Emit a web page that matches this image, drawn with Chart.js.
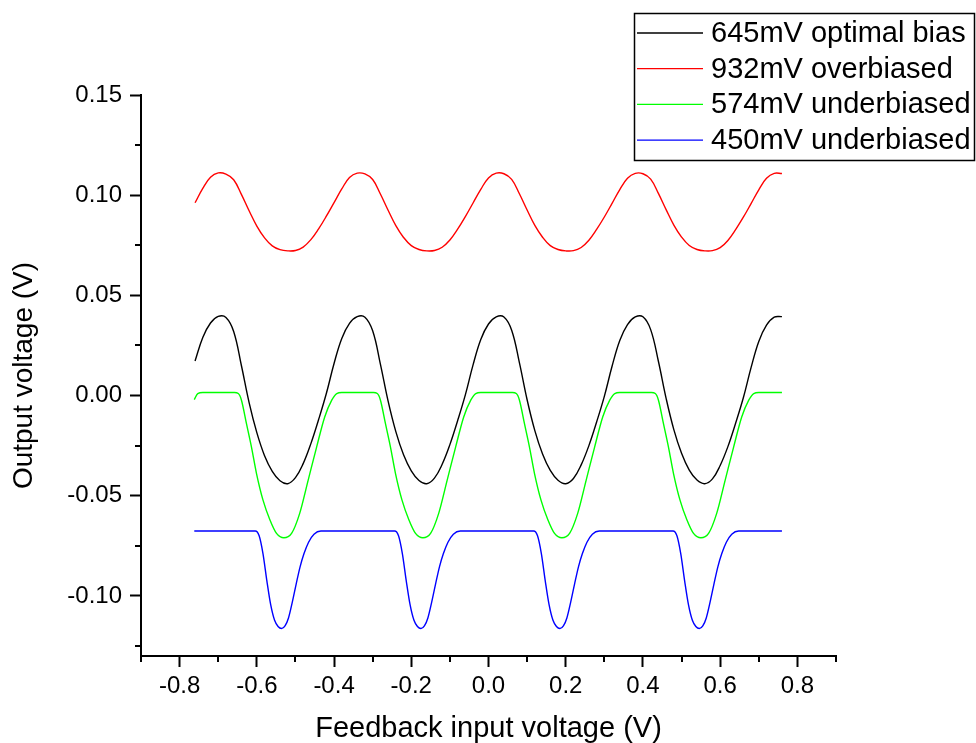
<!DOCTYPE html>
<html>
<head>
<meta charset="utf-8">
<script src="https://cdn.jsdelivr.net/npm/chart.js@4.4.0/dist/chart.umd.min.js"></script>
<style>
  html, body { margin: 0; padding: 0; background: #fff; }
</style>
</head>
<body>
<canvas id="myChart" width="976" height="743"></canvas>
<script>
// feedback input voltage (V) - sampled evenly for the two smooth curves
const xsSmooth = [-0.76,-0.74,-0.72,-0.70,-0.68,-0.66,-0.64,-0.62,-0.60,-0.58,
  -0.56,-0.54,-0.52,-0.50,-0.48,-0.46,-0.44,-0.42,-0.40,-0.38,
  -0.36,-0.34,-0.32,-0.30,-0.28,-0.26,-0.24,-0.22,-0.20,-0.18,
  -0.16,-0.14,-0.12,-0.10,-0.08,-0.06,-0.04,-0.02,0.00,0.02,
  0.04,0.06,0.08,0.10,0.12,0.14,0.16,0.18,0.20,0.22,
  0.24,0.26,0.28,0.30,0.32,0.34,0.36,0.38,0.40,0.42,
  0.44,0.46,0.48,0.50,0.52,0.54,0.56,0.58,0.60,0.62,
  0.64,0.66,0.68,0.70,0.72,0.74,0.76];

// output voltage (V)
const optimal645 = [0.0172,0.0290,0.0362,0.0395,
  0.0390,0.0320,0.0150,-0.0035,-0.0185,-0.0300,-0.0378,-0.0425,-0.0440,-0.0410,-0.0340,-0.0240,-0.0120,0.0010,0.0160,0.0285,0.0360,0.0394,
  0.0391,0.0323,0.0157,-0.0028,-0.0180,-0.0296,-0.0376,-0.0424,-0.0440,-0.0412,-0.0343,-0.0245,-0.0126,0.0003,0.0153,0.0280,0.0357,0.0393,
  0.0392,0.0326,0.0164,-0.0021,-0.0175,-0.0292,-0.0374,-0.0423,-0.0440,-0.0414,-0.0346,-0.0250,-0.0132,-0.0004,0.0146,0.0275,0.0354,0.0392,
  0.0393,0.0329,0.0171,-0.0014,-0.0170,-0.0288,-0.0372,-0.0422,-0.0440,-0.0416,-0.0349,-0.0255,-0.0138,-0.0011,0.0139,0.0270,0.0351,0.0391,
  0.0394];

const over932 = [0.0962,0.1034,0.1089,0.1111,
  0.1105,0.1077,0.1004,0.0922,0.0846,0.0787,0.0747,0.0728,0.0722,0.0724,0.0741,0.0778,0.0832,0.0895,0.0963,0.1031,0.1088,0.1110,
  0.1106,0.1078,0.1006,0.0925,0.0848,0.0789,0.0748,0.0729,0.0722,0.0724,0.0740,0.0776,0.0830,0.0893,0.0961,0.1029,0.1086,0.1110,
  0.1107,0.1079,0.1007,0.0926,0.0849,0.0790,0.0748,0.0729,0.0722,0.0723,0.0739,0.0775,0.0829,0.0891,0.0959,0.1028,0.1085,0.1109,
  0.1107,0.1080,0.1009,0.0928,0.0851,0.0791,0.0749,0.0729,0.0722,0.0723,0.0738,0.0774,0.0828,0.0890,0.0958,0.1027,0.1084,0.1109,
  0.1108];

// 574 mV: flat tops with deep dips, sampled denser in the dips
const xsGreen = [-0.762,-0.753,-0.740,
  -0.658,-0.648,-0.640,-0.627,-0.614,-0.601,-0.584,-0.566,-0.549,-0.530,-0.510,-0.489,-0.467,-0.445,-0.424,-0.406,-0.393,-0.380,
  -0.298,-0.288,-0.280,-0.267,-0.254,-0.241,-0.224,-0.206,-0.189,-0.170,-0.150,-0.129,-0.107,-0.085,-0.064,-0.046,-0.033,-0.020,
  0.062,0.072,0.080,0.093,0.106,0.119,0.136,0.154,0.171,0.190,0.210,0.231,0.253,0.275,0.296,0.314,0.327,0.340,
  0.422,0.432,0.440,0.453,0.466,0.479,0.496,0.514,0.531,0.550,0.570,0.591,0.613,0.635,0.656,0.674,0.687,0.700,
  0.760];
const under574 = [-0.0020,0.0010,0.0015,
  0.0015,0.0010,-0.0022,-0.0139,-0.0256,-0.0388,-0.0522,-0.0621,-0.0688,-0.0710,-0.0688,-0.0588,-0.0422,-0.0256,-0.0106,-0.0023,0.0010,0.0015,
  0.0015,0.0010,-0.0022,-0.0139,-0.0256,-0.0388,-0.0522,-0.0621,-0.0688,-0.0710,-0.0688,-0.0588,-0.0422,-0.0256,-0.0106,-0.0023,0.0010,0.0015,
  0.0015,0.0010,-0.0022,-0.0139,-0.0256,-0.0388,-0.0522,-0.0621,-0.0688,-0.0710,-0.0688,-0.0588,-0.0422,-0.0256,-0.0106,-0.0023,0.0010,0.0015,
  0.0015,0.0010,-0.0022,-0.0139,-0.0256,-0.0388,-0.0522,-0.0621,-0.0688,-0.0710,-0.0688,-0.0588,-0.0422,-0.0256,-0.0106,-0.0023,0.0010,0.0015,
  0.0015];

// 450 mV: flat baseline with narrow dips
const xsBlue = [-0.762,
  -0.604,-0.594,-0.584,-0.574,-0.564,-0.554,-0.545,-0.536,-0.527,-0.518,-0.508,-0.498,-0.488,-0.478,-0.466,-0.452,-0.434,
  -0.243,-0.233,-0.223,-0.213,-0.203,-0.193,-0.184,-0.175,-0.166,-0.157,-0.147,-0.137,-0.127,-0.117,-0.105,-0.091,-0.073,
  0.117,0.127,0.137,0.147,0.157,0.167,0.176,0.185,0.194,0.203,0.213,0.223,0.233,0.243,0.255,0.269,0.287,
  0.478,0.488,0.498,0.508,0.518,0.528,0.537,0.546,0.555,0.564,0.574,0.584,0.594,0.604,0.616,0.630,0.648,
  0.760];
const under450 = [-0.0676,
  -0.0676,-0.0700,-0.0790,-0.0925,-0.1045,-0.1122,-0.1153,-0.1163,-0.1150,-0.1110,-0.1030,-0.0940,-0.0855,-0.0790,-0.0732,-0.0692,-0.0676,
  -0.0676,-0.0700,-0.0790,-0.0925,-0.1045,-0.1122,-0.1153,-0.1163,-0.1150,-0.1110,-0.1030,-0.0940,-0.0855,-0.0790,-0.0732,-0.0692,-0.0676,
  -0.0676,-0.0700,-0.0790,-0.0925,-0.1045,-0.1122,-0.1153,-0.1163,-0.1150,-0.1110,-0.1030,-0.0940,-0.0855,-0.0790,-0.0732,-0.0692,-0.0676,
  -0.0676,-0.0700,-0.0790,-0.0925,-0.1045,-0.1122,-0.1153,-0.1163,-0.1150,-0.1110,-0.1030,-0.0940,-0.0855,-0.0790,-0.0732,-0.0692,-0.0676,
  -0.0676];

const seriesNames = ["645mV optimal bias", "932mV overbiased", "574mV underbiased", "450mV underbiased"];
const seriesColors = ["#000000", "#ff0000", "#00ff00", "#0000ff"];

const xTicks = [-0.8, -0.6, -0.4, -0.2, 0, 0.2, 0.4, 0.6, 0.8];
const xMinorTicks = [-0.9, -0.7, -0.5, -0.3, -0.1, 0.1, 0.3, 0.5, 0.7, 0.9];
const yTicks = [-0.10, -0.05, 0, 0.05, 0.10, 0.15];
const yMinorTicks = [-0.125, -0.075, -0.025, 0.025, 0.075, 0.125];

const FONT = "'Liberation Sans', Arial, sans-serif";

function pts(xv, yv) {
  return xv.map((x, i) => ({ x: x, y: yv[i] }));
}

// small outward minor ticks on both axes
const minorTicks = {
  id: 'minorTicks',
  afterDraw(chart) {
    const ctx = chart.ctx;
    const sx = chart.scales.x, sy = chart.scales.y;
    const area = chart.chartArea;
    ctx.save();
    ctx.strokeStyle = '#000';
    ctx.lineWidth = 2;
    ctx.beginPath();
    xMinorTicks.forEach(v => {
      const px = Math.round(sx.getPixelForValue(v));
      ctx.moveTo(px, area.bottom);
      ctx.lineTo(px, area.bottom + 6);
    });
    yMinorTicks.forEach(v => {
      const py = Math.round(sy.getPixelForValue(v));
      ctx.moveTo(area.left, py);
      ctx.lineTo(area.left - 6, py);
    });
    ctx.stroke();
    ctx.restore();
  }
};

// framed legend in the top right corner
const boxLegend = {
  id: 'boxLegend',
  afterDraw(chart) {
    const ctx = chart.ctx;
    ctx.save();
    ctx.strokeStyle = '#000';
    ctx.lineWidth = 1.5;
    ctx.strokeRect(634.5, 13.5, 340, 147);
    ctx.font = "29px " + FONT;
    ctx.textBaseline = 'middle';
    ctx.fillStyle = '#000';
    chart.data.datasets.forEach((ds, i) => {
      const y = 33 + i * 35.7;
      ctx.strokeStyle = ds.borderColor;
      ctx.lineWidth = 1.3;
      ctx.beginPath();
      ctx.moveTo(637, y);
      ctx.lineTo(703, y);
      ctx.stroke();
      ctx.fillText(ds.label, 711, y + 1);
    });
    ctx.restore();
  }
};

const ctx = document.getElementById('myChart').getContext('2d');
const myChart = new Chart(ctx, {
  type: 'line',
  data: {
    datasets: [
      { label: seriesNames[0], data: pts(xsSmooth, optimal645), borderColor: seriesColors[0], tension: 0.4 },
      { label: seriesNames[1], data: pts(xsSmooth, over932), borderColor: seriesColors[1], tension: 0.4 },
      { label: seriesNames[2], data: pts(xsGreen, under574), borderColor: seriesColors[2], cubicInterpolationMode: 'monotone' },
      { label: seriesNames[3], data: pts(xsBlue, under450), borderColor: seriesColors[3], cubicInterpolationMode: 'monotone' }
    ]
  },
  options: {
    responsive: false,
    animation: false,
    devicePixelRatio: 1,
    layout: { padding: { top: 95, right: 140, left: 0, bottom: 0 } },
    elements: {
      point: { radius: 0 },
      line: { borderWidth: 1.4, fill: false }
    },
    plugins: {
      legend: { display: false },
      tooltip: { enabled: false }
    },
    scales: {
      x: {
        type: 'linear',
        min: -0.9,
        max: 0.9,
        afterBuildTicks: axis => { axis.ticks = xTicks.map(v => ({ value: v })); },
        afterFit: axis => { axis.height = 87; },
        ticks: {
          color: '#000',
          font: { family: FONT, size: 24 },
          padding: 5,
          maxRotation: 0,
          autoSkip: false,
          callback: v => v.toFixed(1)
        },
        grid: { drawOnChartArea: false, drawTicks: true, tickLength: 11, tickColor: '#000', tickWidth: 2 },
        border: { display: true, color: '#000', width: 2 },
        title: {
          display: true,
          text: 'Feedback input voltage (V)',
          color: '#000',
          font: { family: FONT, size: 29, lineHeight: 1 },
          padding: { top: 0, bottom: 0 }
        }
      },
      y: {
        type: 'linear',
        min: -0.13,
        max: 0.15,
        afterBuildTicks: axis => { axis.ticks = yTicks.map(v => ({ value: v })); },
        afterFit: axis => { axis.width = 141; },
        ticks: {
          color: '#000',
          font: { family: FONT, size: 24 },
          padding: 8,
          callback: v => v.toFixed(2)
        },
        grid: { drawOnChartArea: false, drawTicks: true, tickLength: 11, tickColor: '#000', tickWidth: 2 },
        border: { display: true, color: '#000', width: 2 },
        title: {
          display: true,
          text: 'Output voltage (V)',
          color: '#000',
          font: { family: FONT, size: 28, lineHeight: 1 },
          padding: { top: 10, bottom: 0 }
        }
      }
    }
  },
  plugins: [minorTicks, boxLegend]
});
</script>
</body>
</html>
